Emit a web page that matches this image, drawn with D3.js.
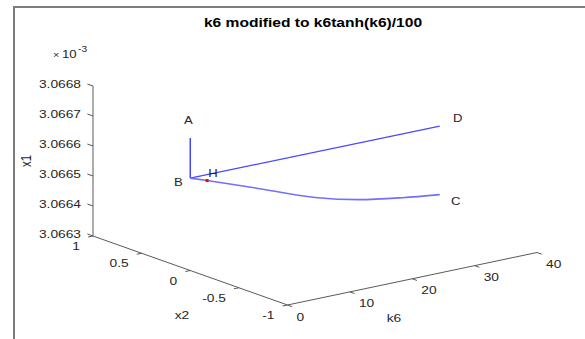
<!DOCTYPE html>
<html>
<head>
<meta charset="utf-8">
<script src="https://cdn.jsdelivr.net/npm/d3@7"></script>
<style>
  body { margin: 0; background: #fff; }
  svg { display: block; }
</style>
</head>
<body>
<div id="chart"></div>
<script>
// x1 values are in units of 1e-3 (axis shows x 10^-3)
const k6Vertical = [0, 0];
const x2Vertical = [0, 0];
const x1Vertical = [3.066742, 3.066608];

const k6Upper = [0, 40];
const x2Upper = [0, 0];
const x1Upper = [3.066608, 3.066606];

const k6Lower = [0, 2.7, 10, 20, 27, 34, 40];
const x2Lower = [0, 0, 0, 0, 0, 0, 0];
const x1Lower = [3.066608, 3.066588, 3.066533, 3.066456, 3.066418, 3.066394, 3.066378];

const pointH = { k6: 2.7, x2: 0, x1: 3.066588 };

const x1Ticks = [3.0663, 3.0664, 3.0665, 3.0666, 3.0667, 3.0668];
const x2Ticks = [1, 0.5, 0, -0.5, -1];
const k6Ticks = [0, 10, 20, 30, 40];

const width = 585, height = 339;
const font = "'Liberation Sans', Arial, sans-serif";
const stretch = 1.2;

const svg = d3.select("#chart").append("svg")
  .attr("width", width)
  .attr("height", height);

svg.append("rect").attr("width", width).attr("height", height).attr("fill", "#fff");

// outer frame
svg.append("path")
  .attr("d", "M14,339 L14,7 L585,7")
  .attr("fill", "none")
  .attr("stroke", "#7d7d7d")
  .attr("stroke-width", 2);

// 3D projection: origin at (k6=0, x2=-1, x1=min)
const origin = [287.5, 305];
const kVec = [249.5, -52.5];
const xVec = [-194.5, -69];

const kScale = d3.scaleLinear().domain([0, 40]).range([0, 1]);
const x2Scale = d3.scaleLinear().domain([-1, 1]).range([0, 1]);
const zScale = d3.scaleLinear().domain([3.0663, 3.0668]).range([0, 150]);

function proj(k, x2, z) {
  const a = kScale(k), b = x2Scale(x2), c = zScale(z);
  return [origin[0] + a * kVec[0] + b * xVec[0],
          origin[1] + a * kVec[1] + b * xVec[1] - c];
}

function txt(x, y, s, opt = {}) {
  const g = svg.append("g")
    .attr("transform", `translate(${x},${y}) scale(${opt.stretch || stretch},1)` + (opt.rotate ? ` rotate(${opt.rotate})` : ""));
  return g.append("text")
    .attr("text-anchor", opt.anchor || "start")
    .attr("dominant-baseline", "central")
    .attr("font-family", font)
    .attr("font-size", opt.size || 11.5)
    .attr("font-weight", opt.weight || "normal")
    .attr("fill", opt.fill || "#262626")
    .text(s);
}

const axisColor = "#5a5a5a";
const tickFont = { size: 11, stretch: 1.25 };

// z axis (x1) at k6=0, x2=1
const zA = proj(0, 1, 3.0663), zB = proj(0, 1, 3.0668);
svg.append("line").attr("x1", zA[0]).attr("y1", zA[1]).attr("x2", zB[0]).attr("y2", zB[1])
  .attr("stroke", axisColor).attr("stroke-width", 1);
x1Ticks.forEach(t => {
  const p = proj(0, 1, t);
  svg.append("line").attr("x1", p[0]).attr("y1", p[1]).attr("x2", p[0] - 5.6).attr("y2", p[1] - 2)
    .attr("stroke", axisColor);
  txt(p[0] - 12, p[1] - 2, d3.format(".4f")(t), { ...tickFont, anchor: "end" });
});

// x2 axis at k6=0, bottom
const xA = proj(0, 1, 3.0663), xB = proj(0, -1, 3.0663);
svg.append("line").attr("x1", xA[0]).attr("y1", xA[1]).attr("x2", xB[0]).attr("y2", xB[1])
  .attr("stroke", axisColor);
x2Ticks.forEach(t => {
  const p = proj(0, t, 3.0663);
  svg.append("line").attr("x1", p[0]).attr("y1", p[1]).attr("x2", p[0] - 4.9).attr("y2", p[1] + 1)
    .attr("stroke", axisColor);
  txt(p[0] - 13, p[1] + 10.5, String(t), { ...tickFont, anchor: "end" });
});

// k6 axis at x2=-1, bottom
const kA = proj(0, -1, 3.0663), kB = proj(40, -1, 3.0663);
svg.append("line").attr("x1", kA[0]).attr("y1", kA[1]).attr("x2", kB[0]).attr("y2", kB[1])
  .attr("stroke", axisColor);
k6Ticks.forEach(t => {
  const p = proj(t, -1, 3.0663);
  svg.append("line").attr("x1", p[0]).attr("y1", p[1]).attr("x2", p[0] + 4.7).attr("y2", p[1] + 1.7)
    .attr("stroke", axisColor);
  txt(p[0] + 9, p[1] + 12, String(t), tickFont);
});

// axis labels
txt(27, 161, "x1", { anchor: "middle", rotate: -90 });
txt(182, 315, "x2", { anchor: "middle" });
txt(394, 318, "k6", { anchor: "middle" });

// exponent
txt(53, 55, "\u00d7", { size: 9 });
txt(62, 54, "10", { size: 11 });
txt(78, 49.5, "-3", { size: 8.5 });

// title
txt(313, 22, "k6 modified to k6tanh(k6)/100", { anchor: "middle", size: 13, weight: "bold", fill: "#000" });

// curves
const line = d3.line().x(d => d[0]).y(d => d[1]);
const toPts = (ks, xs, zs) => ks.map((k, i) => proj(k, xs[i], zs[i]));

svg.append("path")
  .attr("d", line(toPts(k6Vertical, x2Vertical, x1Vertical)))
  .attr("fill", "none").attr("stroke", "#3a3aff").attr("stroke-width", 1.4);

svg.append("path")
  .attr("d", line(toPts(k6Upper, x2Upper, x1Upper)))
  .attr("fill", "none").attr("stroke", "#4747ff").attr("stroke-width", 1.3);

svg.append("path")
  .attr("d", line.curve(d3.curveMonotoneX)(toPts(k6Lower, x2Lower, x1Lower)))
  .attr("fill", "none").attr("stroke", "#7070ff").attr("stroke-width", 1.6);

const h = proj(pointH.k6, pointH.x2, pointH.x1);
svg.append("rect").attr("x", h[0] - 1.5).attr("y", h[1] - 1.5).attr("width", 3).attr("height", 3)
  .attr("fill", "#ff0000");

// point labels
const pA = proj(k6Vertical[0], x2Vertical[0], x1Vertical[0]);
const pB = proj(k6Vertical[1], x2Vertical[1], x1Vertical[1]);
const pD = proj(k6Upper[1], x2Upper[1], x1Upper[1]);
const last = k6Lower.length - 1;
const pC = proj(k6Lower[last], x2Lower[last], x1Lower[last]);
const lab = { size: 10.5, stretch: 1.25, anchor: "middle" };
txt(pA[0] - 2, pA[1] - 17, "A", lab);
txt(pB[0] - 12, pB[1] + 4, "B", lab);
txt(pD[0] + 18, pD[1] - 8, "D", lab);
txt(pC[0] + 16, pC[1] + 7, "C", lab);
txt(h[0] + 6, h[1] - 7, "H", lab);
</script>
</body>
</html>
